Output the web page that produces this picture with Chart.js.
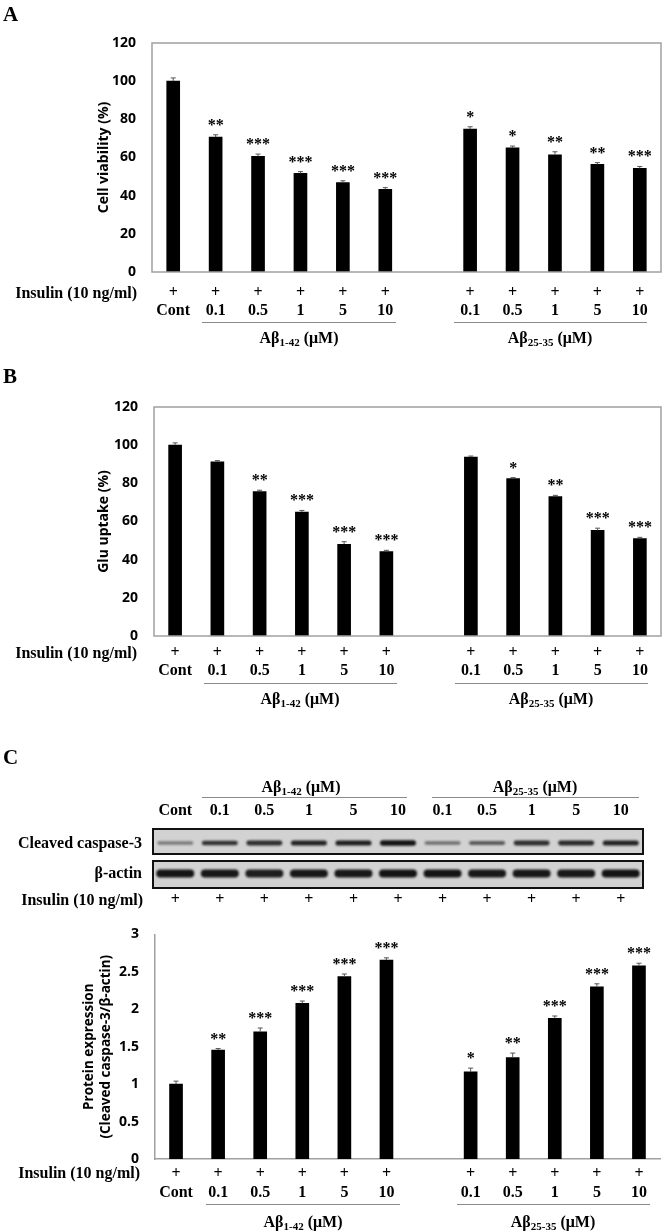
<!DOCTYPE html>
<html>
<head>
<meta charset="utf-8">
<script src="https://cdn.jsdelivr.net/npm/chart.js@4.4.0/dist/chart.umd.min.js"></script>
<style>
  body { margin:0; background:#fff; width:666px; height:1231px; position:relative; overflow:hidden; }
  canvas { position:absolute; left:0; }
  .t { position:absolute; font:bold 16px "Liberation Serif", "Times New Roman", serif; color:#000; white-space:nowrap; line-height:20px; height:20px; }
  .panel { font-size:21px; left:3px; }
  .c { transform:translateX(-50%); }
  .u { position:absolute; height:0; border-top:1.5px solid #8a8a8a; }
  sub { font-size:11px; vertical-align:-3px; line-height:0; }
</style>
</head>
<body>
<canvas id="chartA" width="666" height="335" style="top:0"></canvas>
<canvas id="chartB" width="666" height="340" style="top:360px"></canvas>
<canvas id="blot" width="666" height="150" style="top:760px"></canvas>
<canvas id="chartC" width="666" height="321" style="top:910px"></canvas>

<!-- panel letters -->
<div class="t panel" style="top:4px">A</div>
<div class="t panel" style="top:366px">B</div>
<div class="t panel" style="top:747px">C</div>

<!-- row captions -->
<div class="t" style="right:529px; top:283px">Insulin (10 ng/ml)</div>
<div class="t" style="right:529px; top:643px">Insulin (10 ng/ml)</div>
<div class="t" style="right:523px; top:890px">Insulin (10 ng/ml)</div>
<div class="t" style="right:526px; top:1163px">Insulin (10 ng/ml)</div>
<div class="t" style="right:524px; top:833px">Cleaved caspase-3</div>
<div class="t" style="right:524px; top:863px">&beta;-actin</div>

<!-- group brackets -->
<div class="u" style="top:322px; left:202px; width:194px"></div>
<div class="u" style="top:322px; left:454px; width:193px"></div>
<div class="t c" style="top:328px; left:299px">A&beta;<sub>1-42</sub> (&mu;M)</div>
<div class="t c" style="top:328px; left:550px">A&beta;<sub>25-35</sub> (&mu;M)</div>

<div class="u" style="top:683px; left:204px; width:193px"></div>
<div class="u" style="top:683px; left:455px; width:193px"></div>
<div class="t c" style="top:689px; left:300px">A&beta;<sub>1-42</sub> (&mu;M)</div>
<div class="t c" style="top:689px; left:551px">A&beta;<sub>25-35</sub> (&mu;M)</div>

<div class="t c" style="top:777px; left:301px">A&beta;<sub>1-42</sub> (&mu;M)</div>
<div class="t c" style="top:777px; left:535px">A&beta;<sub>25-35</sub> (&mu;M)</div>
<div class="u" style="top:797px; left:202px; width:205px"></div>
<div class="u" style="top:797px; left:432px; width:207px"></div>

<div class="u" style="top:1204px; left:206px; width:194px"></div>
<div class="u" style="top:1204px; left:457px; width:193px"></div>
<div class="t c" style="top:1212px; left:303px">A&beta;<sub>1-42</sub> (&mu;M)</div>
<div class="t c" style="top:1212px; left:553px">A&beta;<sub>25-35</sub> (&mu;M)</div>

<script>
// categories (empty slot separates the two peptide groups)
const doses = ['Cont', '0.1', '0.5', '1', '5', '10', '', '0.1', '0.5', '1', '5', '10'];
const insulin = ['+', '+', '+', '+', '+', '+', '', '+', '+', '+', '+', '+'];

// A - cell viability (%)
const viability = [100, 70.7, 60.6, 51.7, 46.9, 43.3, null, 74.9, 65.1, 61.4, 56.4, 54.3];
const viabilityErr = [1.7, 1.2, 1.2, 0.9, 0.9, 0.9, null, 1.2, 0.9, 1.6, 0.9, 1.0];
const viabilityStars = ['', '**', '***', '***', '***', '***', '', '*', '*', '**', '**', '***'];

// B - glucose uptake (%)
const glucose = [100, 91.3, 75.7, 65.0, 48.1, 44.2, null, 93.7, 82.5, 73.1, 55.4, 51.0];
const glucoseErr = [1.2, 0.6, 0.7, 0.8, 1.3, 0.7, null, 0.6, 0.5, 0.6, 1.1, 0.7];
const glucoseStars = ['', '', '**', '***', '***', '***', '', '', '*', '**', '***', '***'];

// C - cleaved caspase-3 / beta-actin
const caspase = [1.0, 1.455, 1.70, 2.08, 2.436, 2.657, null, 1.164, 1.355, 1.88, 2.30, 2.58];
const caspaseErr = [0.04, 0.02, 0.05, 0.03, 0.035, 0.03, null, 0.05, 0.06, 0.03, 0.04, 0.035];
const caspaseStars = ['', '**', '***', '***', '***', '***', '', '*', '**', '***', '***', '***'];

const pctTicks = [0, 20, 40, 60, 80, 100, 120];
const ratioTicks = [0, 0.5, 1, 1.5, 2, 2.5, 3];

// western blot lanes (band darkness 0..1)
const blotLanes = ['Cont', '0.1', '0.5', '1', '5', '10', '0.1', '0.5', '1', '5', '10'];
const blotInsulin = ['+', '+', '+', '+', '+', '+', '+', '+', '+', '+', '+'];
const cleavedBand = [0.45, 0.8, 0.82, 0.88, 0.9, 0.95, 0.5, 0.6, 0.82, 0.85, 0.88];
const actinBand = [0.95, 0.93, 0.9, 0.93, 0.93, 0.95, 0.95, 0.93, 0.93, 0.93, 0.95];

Chart.defaults.font.family = '"Liberation Serif", serif';
Chart.defaults.color = '#000';

const AXIS_GRAY = '#a0a0a0';
const serifBold = size => ({ family: '"Liberation Serif", serif', weight: 'bold', size: size });
const sansBold = size => ({ family: '"Open Sans", sans-serif', weight: 'bold', size: size });

// error bars + significance stars
function annotate(errs, stars) {
    return {
        id: 'annotate',
        afterDatasetsDraw(chart) {
            const { ctx } = chart;
            const y = chart.scales.y;
            const values = chart.data.datasets[0].data;
            ctx.save();
            chart.getDatasetMeta(0).data.forEach((bar, i) => {
                if (values[i] == null) return;
                const top = y.getPixelForValue(values[i] + errs[i]);
                ctx.strokeStyle = '#555';
                ctx.lineWidth = 1;
                ctx.beginPath();
                ctx.moveTo(bar.x, bar.y);
                ctx.lineTo(bar.x, top);
                ctx.moveTo(bar.x - 2.5, top);
                ctx.lineTo(bar.x + 2.5, top);
                ctx.stroke();
                if (stars[i]) {
                    ctx.font = 'bold 16px "Liberation Serif"';
                    ctx.textAlign = 'center';
                    ctx.textBaseline = 'alphabetic';
                    ctx.fillStyle = '#000';
                    ctx.fillText(stars[i], bar.x, top - 5);
                }
            });
            ctx.restore();
        }
    };
}

const frame = {
    id: 'frame',
    afterDatasetsDraw(chart) {
        const { ctx, chartArea: a } = chart;
        ctx.save();
        ctx.strokeStyle = AXIS_GRAY;
        ctx.lineWidth = 1.5;
        ctx.strokeRect(a.left, a.top, a.right - a.left, a.bottom - a.top);
        ctx.restore();
    }
};

// area is given in page pixels; canvasTop shifts it into the canvas
function barChart(id, cfg) {
    const el = document.getElementById(id);
    const H = el.height;
    const top = cfg.area.top - cfg.canvasTop;
    const bottom = cfg.area.bottom - cfg.canvasTop;
    const plugins = [annotate(cfg.errs, cfg.stars)];
    if (cfg.boxed) plugins.push(frame);

    return new Chart(el, {
        type: 'bar',
        data: {
            labels: doses.map((d, i) => [insulin[i], d]),
            datasets: [{ data: cfg.values, backgroundColor: '#000', barThickness: 13, categoryPercentage: 1 }]
        },
        options: {
            responsive: false,
            animation: false,
            layout: { padding: { left: 0, top: top, right: 666 - cfg.area.right, bottom: 0 } },
            plugins: { legend: { display: false }, tooltip: { enabled: false } },
            scales: {
                x: {
                    grid: { display: false, drawTicks: false },
                    border: { display: !cfg.boxed, color: AXIS_GRAY, width: 1.5 },
                    ticks: { font: { ...serifBold(16), lineHeight: cfg.labelLine }, color: '#000', padding: cfg.labelPad, maxRotation: 0, autoSkip: false },
                    afterFit: s => { s.height = H - bottom; }
                },
                y: {
                    min: 0,
                    max: cfg.ticks[cfg.ticks.length - 1],
                    grid: { display: false, drawTicks: false },
                    border: { display: !cfg.boxed, color: AXIS_GRAY, width: 1.5 },
                    ticks: { font: sansBold(14), color: '#000', padding: 16, callback: v => String(v) },
                    afterBuildTicks: s => { s.ticks = cfg.ticks.map(v => ({ value: v })); },
                    title: {
                        display: true,
                        text: cfg.title,
                        color: '#000',
                        font: { ...sansBold(cfg.titleSize), lineHeight: cfg.titleLine },
                        padding: { top: cfg.titlePad, bottom: 0 }
                    },
                    afterFit: s => { s.width = cfg.area.left; }
                }
            }
        },
        plugins: plugins
    });
}

barChart('chartA', {
    canvasTop: 0, area: { left: 152, top: 43, right: 661, bottom: 272 },
    values: viability, errs: viabilityErr, stars: viabilityStars, ticks: pctTicks,
    title: 'Cell viability (%)', titleSize: 14, titleLine: 1.2, titlePad: 96,
    labelPad: 12, labelLine: 1.125, boxed: true
});

barChart('chartB', {
    canvasTop: 360, area: { left: 154, top: 407, right: 661, bottom: 636 },
    values: glucose, errs: glucoseErr, stars: glucoseStars, ticks: pctTicks,
    title: 'Glu uptake (%)', titleSize: 14, titleLine: 1.2, titlePad: 96,
    labelPad: 8, labelLine: 1.125, boxed: true
});

barChart('chartC', {
    canvasTop: 910, area: { left: 155, top: 929, right: 660, bottom: 1159 },
    values: caspase, errs: caspaseErr, stars: caspaseStars, ticks: ratioTicks,
    title: ['Protein expression', '(Cleaved caspase-3/\u03b2-actin)'], titleSize: 13.5, titleLine: 1.26, titlePad: 81,
    labelPad: 5, labelLine: 1.22, boxed: false
});

// western blot strips, lanes placed by the category scale
const blotDraw = {
    id: 'blotDraw',
    beforeDatasetsDraw(chart) {
        const { ctx, chartArea: a } = chart;
        const x = chart.scales.x;
        const rows = [
            { top: a.top, bottom: a.top + 25, bands: cleavedBand, cy: 14, w: 36, h: d => 1.5 + 4 * d },
            { top: a.top + 32, bottom: a.bottom, bands: actinBand, cy: 12.5, w: 38, h: () => 8 }
        ];
        ctx.save();
        rows.forEach(r => {
            ctx.fillStyle = '#d2d2d2';
            ctx.fillRect(a.left, r.top, a.right - a.left, r.bottom - r.top);
            ctx.save();
            ctx.beginPath();
            ctx.rect(a.left, r.top, a.right - a.left, r.bottom - r.top);
            ctx.clip();
            ctx.filter = 'blur(1px)';
            r.bands.forEach((d, i) => {
                const cx = x.getPixelForValue(i);
                const h = r.h(d);
                ctx.fillStyle = `rgba(10,10,10,${d})`;
                ctx.beginPath();
                ctx.roundRect(cx - r.w / 2, r.top + r.cy - h / 2, r.w, h, h / 2);
                ctx.fill();
            });
            ctx.restore();
            ctx.strokeStyle = '#111';
            ctx.lineWidth = 2;
            ctx.strokeRect(a.left, r.top, a.right - a.left, r.bottom - r.top);
        });
        ctx.restore();
    }
};

const blotEl = document.getElementById('blot');
new Chart(blotEl, {
    type: 'bar',
    data: { labels: blotLanes, datasets: [] },
    options: {
        responsive: false,
        animation: false,
        layout: { padding: { left: 153, right: 23, top: 0, bottom: 0 } },
        plugins: { legend: { display: false }, tooltip: { enabled: false } },
        scales: {
            x: {
                position: 'top', offset: true,
                grid: { display: false, drawTicks: false }, border: { display: false },
                ticks: { font: { ...serifBold(16), lineHeight: 1.125 }, color: '#000', padding: 9, maxRotation: 0, autoSkip: false },
                afterFit: s => { s.height = 829 - 760; }
            },
            xb: {
                type: 'category', labels: blotInsulin, position: 'bottom', offset: true,
                grid: { display: false, drawTicks: false }, border: { display: false },
                ticks: { font: { ...serifBold(16), lineHeight: 1.125 }, color: '#000', padding: 3, maxRotation: 0, autoSkip: false },
                afterFit: s => { s.height = 910 - 888; }
            },
            y: { display: false, min: 0, max: 1 }
        }
    },
    plugins: [blotDraw]
});
</script>
</body>
</html>
